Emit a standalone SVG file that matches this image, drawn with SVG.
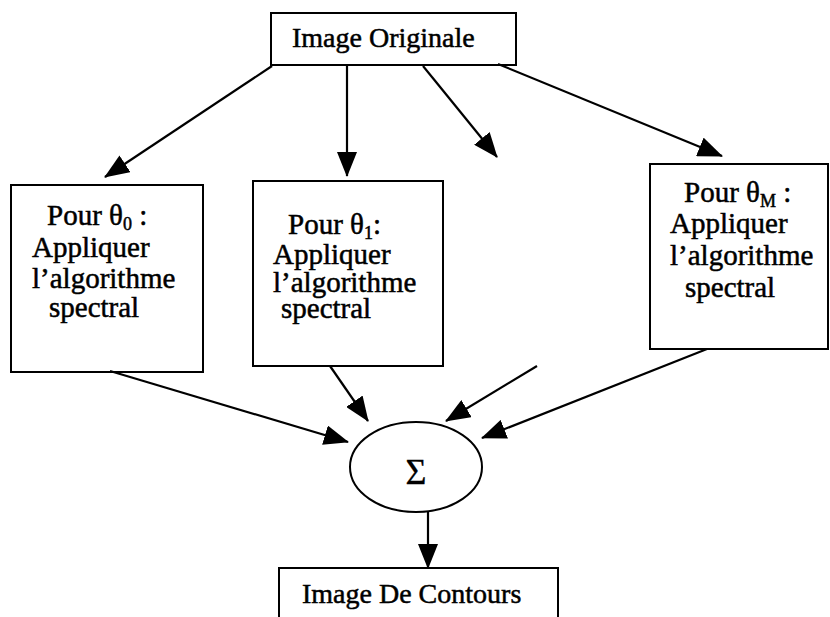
<svg xmlns="http://www.w3.org/2000/svg" width="830" height="617" viewBox="0 0 830 617">
<defs>
<style>
.box{fill:#fff;stroke:#000;stroke-width:2}
.t{font-family:"Liberation Serif","Times New Roman",serif;font-size:28px;fill:#000;stroke:#000;stroke-width:0.5}
.bt{font-size:29px}
.sub{font-size:18px}
.c{stroke:#000;stroke-width:2.2;fill:none;marker-end:url(#ah)}
</style>
<marker id="ah" markerUnits="userSpaceOnUse" markerWidth="25" markerHeight="20" refX="24" refY="10" orient="auto">
<path d="M0,0 L25,10 L0,20 z" fill="#000"/>
</marker>
</defs>
<rect width="830" height="617" fill="#fff"/>
<g id="top">
<rect class="box" x="271" y="13" width="245" height="52"/>
<text class="t" x="292" y="47">Image Originale</text>
</g>
<g id="b0">
<rect class="box" x="11" y="185" width="192" height="187"/>
<text class="t bt"><tspan x="47" y="225">Pour θ<tspan class="sub" dy="5">0</tspan><tspan dy="-5"> :</tspan></tspan><tspan x="32" y="257">Appliquer</tspan><tspan x="32" y="288">l’algorithme</tspan><tspan x="49" y="317">spectral</tspan></text>
</g>
<g id="b1">
<rect class="box" x="253" y="181" width="190" height="185"/>
<text class="t bt"><tspan x="288" y="234">Pour θ<tspan class="sub" dy="5">1</tspan><tspan dy="-5">:</tspan></tspan><tspan x="273" y="264">Appliquer</tspan><tspan x="273" y="292">l’algorithme</tspan><tspan x="281" y="318">spectral</tspan></text>
</g>
<g id="bM">
<rect class="box" x="650" y="164" width="178" height="185"/>
<text class="t bt"><tspan x="684" y="202">Pour θ<tspan class="sub" dy="5">M</tspan><tspan dy="-5"> :</tspan></tspan><tspan x="670" y="233">Appliquer</tspan><tspan x="670" y="265">l’algorithme</tspan><tspan x="685" y="297">spectral</tspan></text>
</g>
<g id="sum">
<ellipse class="box" cx="416" cy="467" rx="66" ry="45"/>
<text class="t" x="416" y="484" text-anchor="middle" style="font-size:36px;stroke-width:0.3">Σ</text>
</g>
<g id="out">
<rect class="box" x="279" y="568" width="279" height="60"/>
<text class="t" x="302" y="603">Image De Contours</text>
</g>
<g id="connectors">
<line class="c" x1="272" y1="66" x2="105" y2="177"/>
<line class="c" x1="347" y1="66" x2="347" y2="176"/>
<line class="c" x1="423" y1="66" x2="497" y2="157"/>
<line class="c" x1="498" y1="64" x2="722" y2="156"/>
<line class="c" x1="110" y1="371" x2="348" y2="442"/>
<line class="c" x1="330" y1="366" x2="368" y2="421"/>
<line class="c" x1="537" y1="366" x2="446" y2="421"/>
<line class="c" x1="707" y1="349" x2="482" y2="438"/>
<line class="c" x1="428" y1="512" x2="428" y2="568"/>
</g>
</svg>
